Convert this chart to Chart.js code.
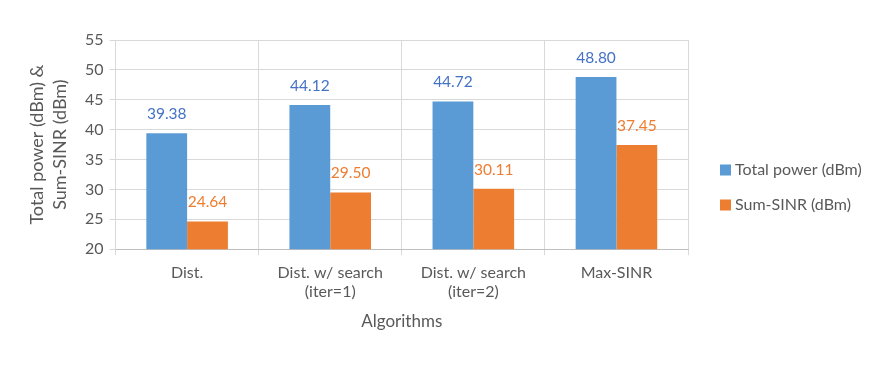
<!DOCTYPE html>
<html>
<head>
<meta charset="utf-8">
<script src="https://cdn.jsdelivr.net/npm/chart.js@4.4.1/dist/chart.umd.min.js"></script>
<style>
  html, body { margin: 0; padding: 0; background: #fff; }
  #wrap { width: 886px; height: 375px; }
</style>
</head>
<body>
<div id="wrap"><canvas id="chart" width="886" height="375"></canvas></div>
<script>
// adatok
const categories = ['Dist.', ['Dist. w/ search', '(iter=1)'], ['Dist. w/ search', '(iter=2)'], 'Max-SINR'];
const seriesNames = ['Total power (dBm)', 'Sum-SINR (dBm)'];
const totalPower = [39.38, 44.12, 44.72, 48.80];
const sumSinr = [24.64, 29.50, 30.11, 37.45];
const yTicks = [20, 25, 30, 35, 40, 45, 50, 55];

const FONT = 'Lato, "Open Sans", sans-serif';
const GREY = '#595959';
const barColors = ['#5b9bd5', '#ed7d31'];
const labelColors = ['#4472c4', '#ed7d31'];

// értékcímkék a hasábok fölé
const valueLabels = {
  id: 'valueLabels',
  afterDatasetsDraw(chart) {
    const ctx = chart.ctx;
    chart.data.datasets.forEach((ds, i) => {
      const meta = chart.getDatasetMeta(i);
      ctx.save();
      ctx.font = '15.5px ' + FONT;
      ctx.fillStyle = labelColors[i];
      ctx.textAlign = 'center';
      ctx.textBaseline = 'middle';
      meta.data.forEach((bar, j) => {
        ctx.fillText(ds.data[j].toFixed(2), bar.x, bar.y - 19);
      });
      ctx.restore();
    });
  }
};

// jelmagyarázat jobb oldalon (Excel-szerű)
const sideLegend = {
  id: 'sideLegend',
  afterDraw(chart) {
    const ctx = chart.ctx;
    const area = chart.chartArea;
    const x = area.right + 32;
    const yMid = 187;
    ctx.save();
    ctx.font = '16px ' + FONT;
    ctx.textBaseline = 'middle';
    ctx.textAlign = 'left';
    chart.data.datasets.forEach((ds, i) => {
      const y = yMid + (i - 0.5) * 35;
      ctx.fillStyle = ds.backgroundColor;
      ctx.fillRect(x, y - 5, 11, 11);
      ctx.fillStyle = GREY;
      ctx.fillText(ds.label, x + 15, y);
    });
    ctx.restore();
  }
};

new Chart(document.getElementById('chart'), {
  type: 'bar',
  data: {
    labels: categories,
    datasets: [
      { label: seriesNames[0], data: totalPower, backgroundColor: barColors[0] },
      { label: seriesNames[1], data: sumSinr, backgroundColor: barColors[1] }
    ]
  },
  options: {
    responsive: false,
    animation: false,
    layout: { padding: { left: 22, top: 40, right: 198, bottom: 39 } },
    datasets: { bar: { categoryPercentage: 0.57, barPercentage: 1 } },
    plugins: {
      tooltip: { enabled: false },
      legend: { display: false }
    },
    scales: {
      x: {
        grid: { offset: true, color: '#d9d9d9', tickLength: 6 },
        border: { color: '#bfbfbf' },
        ticks: { color: GREY, font: { family: FONT, size: 16 }, padding: 8 },
        title: { display: true, text: 'Algorithms', color: GREY, font: { family: FONT, size: 17 }, padding: { top: 2 } }
      },
      y: {
        min: 20,
        max: 55,
        afterBuildTicks: axis => { axis.ticks = yTicks.map(v => ({ value: v })); },
        grid: { color: '#d9d9d9', tickLength: 6 },
        border: { color: '#d9d9d9' },
        ticks: { color: GREY, font: { family: FONT, size: 16 }, padding: 6 },
        title: { display: true, text: ['Total power (dBm) &', 'Sum-SINR (dBm)'], color: GREY, font: { family: FONT, size: 18, lineHeight: 1.25 }, padding: { bottom: 8 } }
      }
    }
  },
  plugins: [valueLabels, sideLegend]
});
</script>
</body>
</html>
